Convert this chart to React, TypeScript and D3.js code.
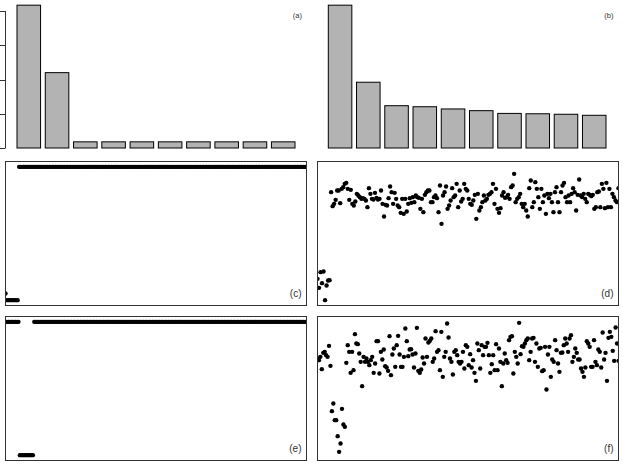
import React from "react";
import * as d3 from "d3";

const W = 623;
const H = 467;

// bar panels: 10 components
const components = ["1", "2", "3", "4", "5", "6", "7", "8", "9", "10"];
const barValuesA = [4.17, 2.2, 0.18, 0.18, 0.18, 0.18, 0.18, 0.18, 0.18, 0.18];
const barValuesB = [4.17, 1.92, 1.235, 1.205, 1.14, 1.09, 1.01, 1.0, 0.985, 0.955];
const barTicks = [0, 1, 2, 3, 4];

// state probabilities, stored as [value, run length]
const runsC = [[0.05, 1], [0, 8], [1, 191]];
const runsE = [[1, 10], [0, 10], [1, 190]];

// series (d)
const seriesD = [
  80, 53, 100, 67, 102, 16, 60, 75, 76,
  340, 298, 305, 317, 345, 345, 307, 350, 355, 365,
  368, 350, 317, 347, 305, 300, 312, 335, 330, 325,
  320, 322, 320, 315, 295, 352, 335, 320, 318, 338,
  323, 318, 320, 345, 305, 267, 302, 300, 322, 357,
  340, 305, 338, 320, 300, 295, 278, 320, 275, 320,
  282, 305, 322, 308, 325, 310, 330, 325, 323, 290,
  320, 280, 332, 340, 345, 345, 310, 310, 325, 330,
  322, 280, 360, 245, 330, 340, 357, 290, 300, 315,
  352, 325, 330, 365, 295, 345, 312, 320, 365, 350,
  345, 320, 305, 302, 315, 332, 260, 335, 285, 295,
  310, 330, 315, 320, 332, 335, 340, 365, 305, 350,
  290, 278, 292, 330, 340, 323, 325, 332, 320, 355,
  360, 395, 310, 320, 325, 335, 305, 295, 305, 285,
  267, 352, 375, 295, 310, 370, 350, 325, 290, 350,
  310, 330, 275, 335, 322, 335, 310, 280, 340, 355,
  310, 280, 340, 360, 368, 325, 310, 330, 310, 335,
  352, 340, 285, 332, 378, 330, 325, 335, 320, 310,
  335, 332, 328, 332, 290, 295, 340, 342, 295, 365,
  350, 292, 368, 295, 350, 295, 335, 325, 315, 310, 352,
];

// series (f)
const seriesF = [
  306, 301, 311, 274, 323, 326, 316, 311, 344, 284,
  148, 171, 121, 121, 73, 26, 51, 155, 108, 101,
  293, 346, 326, 263, 326, 271, 379, 351, 349, 321,
  296, 223, 311, 296, 306, 296, 286, 301, 311, 263,
  291, 358, 358, 261, 326, 303, 333, 283, 279, 269,
  373, 256, 318, 336, 281, 346, 374, 318, 281, 281,
  311, 396, 358, 313, 333, 334, 318, 279, 321, 398,
  269, 263, 273, 309, 291, 366, 311, 354, 359, 366,
  296, 306, 388, 326, 331, 271, 386, 251, 311, 326,
  411, 369, 306, 296, 258, 326, 331, 316, 296, 291,
  296, 326, 276, 346, 341, 286, 319, 279, 301, 263,
  239, 351, 331, 276, 346, 316, 341, 341, 353, 316,
  263, 289, 316, 271, 349, 271, 336, 296, 223, 291,
  321, 301, 293, 361, 371, 373, 261, 326, 311, 291,
  413, 319, 343, 341, 351, 361, 366, 301, 326, 366,
  368, 296, 351, 281, 336, 338, 268, 271, 341, 213,
  318, 341, 251, 303, 296, 361, 331, 291, 266, 323,
  324, 346, 366, 351, 326, 366, 376, 296, 311, 336,
  323, 303, 303, 276, 266, 251, 279, 358, 351, 341,
  281, 281, 361, 296, 286, 333, 326, 279, 384, 303,
  323, 239, 368, 386, 371, 329, 299, 399, 351, 299,
];

const expand = (runs: number[][]) =>
  runs.flatMap(([v, n]) => Array.from({ length: n }, () => v));

type Box = { x0: number; x1: number; y0: number; y1: number };

const labelStyle = {
  fontFamily: "'Liberation Sans', Arial, sans-serif",
  fill: "#333",
};

const BarPanel = ({ id, values, x0, x1, label, axis }: any) => {
  const x = d3.scaleBand().domain(components).range([x0, x1]).paddingInner(0.2 / 1.2).paddingOuter(0);
  const y = d3.scaleLinear().domain([0, 4]).range([148, 11]);
  return (
    <g>
      {axis && (
        <g>
          <line x1={5.5} x2={5.5} y1={y(barTicks[0])} y2={y(barTicks[barTicks.length - 1])} stroke="#333" />
          {barTicks.map((t) => (
            <line key={t} x1={0} x2={5.5} y1={Math.round(y(t)) + 0.5} y2={Math.round(y(t)) + 0.5} stroke="#333" />
          ))}
        </g>
      )}
      {values.map((v: number, i: number) => (
        <rect
          key={id + i}
          x={x(components[i])}
          y={y(v)}
          width={x.bandwidth()}
          height={y(0) - y(v)}
          fill="#b3b3b3"
          stroke="#000"
          strokeWidth={1}
        />
      ))}
      <text x={label.x} y={label.y} fontSize={7.5} textAnchor="end" {...labelStyle}>{label.text}</text>
    </g>
  );
};

const ScatterPanel = ({ id, values, domain, box, label }: any) => {
  const b: Box = box;
  const x = d3.scaleLinear().domain([1, values.length]).range([b.x0, b.x1]);
  const y = d3.scaleLinear().domain(domain).range([b.y1, b.y0]);
  return (
    <g>
      <defs>
        <clipPath id={"clip-" + id}>
          <rect x={b.x0} y={b.y0} width={b.x1 - b.x0} height={b.y1 - b.y0} />
        </clipPath>
      </defs>
      <g clipPath={`url(#clip-${id})`}>
        {values.map((v: number, i: number) => (
          <circle key={i} cx={x(i + 1)} cy={y(v)} r={2.2} fill="#000" />
        ))}
      </g>
      <rect x={b.x0} y={b.y0} width={b.x1 - b.x0} height={b.y1 - b.y0} fill="none" stroke="#333" strokeWidth={1} />
      <text x={b.x1 - 5} y={b.y1 - 9} fontSize={10} textAnchor="end" {...labelStyle}>{label}</text>
    </g>
  );
};

export default function App() {
  const boxC = { x0: 5.5, x1: 306.5, y0: 161.5, y1: 305.5 };
  const boxD = { x0: 317.5, x1: 618.5, y0: 161.5, y1: 305.5 };
  const boxE = { x0: 5.5, x1: 306.5, y0: 316.5, y1: 460.5 };
  const boxF = { x0: 317.5, x1: 618.5, y0: 316.5, y1: 460.5 };
  return (
    <div style={{ position: "fixed", left: 0, top: 0, width: W, height: H, background: "#fff" }}>
      <svg width={W} height={H} style={{ display: "block" }}>
        <rect width={W} height={H} fill="#fff" />
        <BarPanel id="a" values={barValuesA} x0={17} x1={295} axis label={{ text: "(a)", x: 302, y: 17.5 }} />
        <BarPanel id="b" values={barValuesB} x0={328.3} x1={606} label={{ text: "(b)", x: 613.5, y: 17.5 }} />
        <ScatterPanel id="c" values={expand(runsC)} domain={[-0.04, 1.04]} box={boxC} label="(c)" />
        <ScatterPanel id="d" values={seriesD} domain={[0, 432]} box={boxD} label="(d)" />
        <ScatterPanel id="e" values={expand(runsE)} domain={[-0.04, 1.04]} box={boxE} label="(e)" />
        <ScatterPanel id="f" values={seriesF} domain={[0, 432]} box={boxF} label="(f)" />
      </svg>
    </div>
  );
}
